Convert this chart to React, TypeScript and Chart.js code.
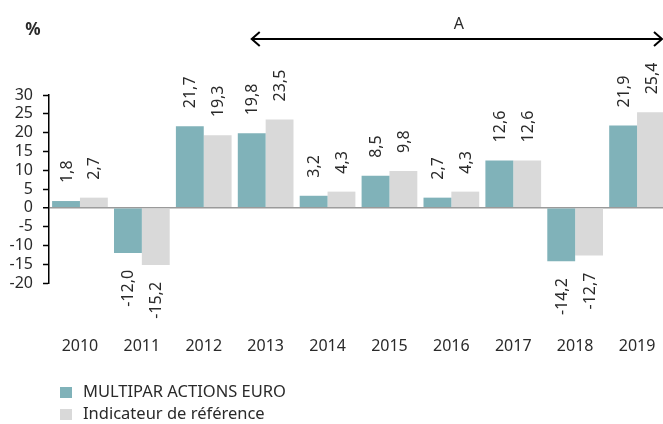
import React, { useEffect, useRef } from "react";
import { Chart, registerables } from "chart.js";

Chart.register(...registerables);

const categories = ["2010", "2011", "2012", "2013", "2014", "2015", "2016", "2017", "2018", "2019"];
const fundValues = [1.8, -12.0, 21.7, 19.8, 3.2, 8.5, 2.7, 12.6, -14.2, 21.9];
const benchmarkValues = [2.7, -15.2, 19.3, 23.5, 4.3, 9.8, 4.3, 12.6, -12.7, 25.4];
const seriesNames = ["MULTIPAR ACTIONS EURO", "Indicateur de référence"];
const seriesColors = ["#80b2b9", "#d9d9d9"];
const yMin = -20;
const yMax = 30;
const yStep = 5;
const unitLabel = "%";
const periodLabel = "A";
const periodStart = "2013";

const FONT = "'Noto Sans', sans-serif";
const TEXT = "#2a2a2a";

const fmt = (v: number) => v.toFixed(1).replace(".", ",");

const overlayPlugin = {
  id: "overlay",
  afterDatasetsDraw(chart: any) {
    const ctx = chart.ctx;
    ctx.save();
    ctx.font = `16px ${FONT}`;
    ctx.fillStyle = TEXT;
    ctx.textBaseline = "middle";
    chart.data.datasets.forEach((ds: any, di: number) => {
      const meta = chart.getDatasetMeta(di);
      meta.data.forEach((bar: any, i: number) => {
        const v = ds.data[i];
        ctx.save();
        if (v >= 0) {
          ctx.translate(bar.x, bar.y - 18);
          ctx.rotate(-Math.PI / 2);
          ctx.textAlign = "left";
        } else {
          ctx.translate(bar.x, bar.y + 17);
          ctx.rotate(-Math.PI / 2);
          ctx.textAlign = "right";
        }
        ctx.fillText(fmt(v), 0, 1);
        ctx.restore();
      });
    });
    ctx.restore();
  },
  afterDraw(chart: any) {
    const ctx = chart.ctx;
    ctx.save();
    // unit label
    ctx.font = `bold 17px ${FONT}`;
    ctx.fillStyle = TEXT;
    ctx.textAlign = "center";
    ctx.textBaseline = "middle";
    ctx.fillText(unitLabel, 33, 30);
    // period arrow
    const idx = categories.indexOf(periodStart);
    const x0 = chart.getDatasetMeta(0).data[idx].x;
    const x1 = 662;
    const y = 39;
    ctx.strokeStyle = "#000";
    ctx.lineWidth = 2;
    ctx.beginPath();
    ctx.moveTo(x0, y);
    ctx.lineTo(x1, y);
    ctx.stroke();
    ctx.beginPath();
    ctx.moveTo(x0 + 8, y - 7);
    ctx.lineTo(x0, y);
    ctx.lineTo(x0 + 8, y + 7);
    ctx.stroke();
    ctx.beginPath();
    ctx.moveTo(x1 - 8, y - 7);
    ctx.lineTo(x1, y);
    ctx.lineTo(x1 - 8, y + 7);
    ctx.stroke();
    ctx.font = `16px ${FONT}`;
    ctx.fillText(periodLabel, (x0 + x1) / 2 + 2, 24);
    // legend
    ctx.textAlign = "left";
    ctx.font = `16.5px ${FONT}`;
    seriesNames.forEach((name, i) => {
      const cy = 392 + i * 22;
      ctx.fillStyle = seriesColors[i];
      ctx.fillRect(60, cy - 5, 12, 11);
      ctx.fillStyle = TEXT;
      ctx.fillText(name, 83, cy);
    });
    ctx.restore();
  },
};

export default function App() {
  const ref = useRef<HTMLCanvasElement | null>(null);
  useEffect(() => {
    if (!ref.current) return;
    const chart = new Chart(ref.current, {
      type: "bar",
      data: {
        labels: categories,
        datasets: [
          { label: seriesNames[0], data: fundValues, backgroundColor: seriesColors[0], borderWidth: 0 },
          { label: seriesNames[1], data: benchmarkValues, backgroundColor: seriesColors[1], borderWidth: 0 },
        ],
      },
      options: {
        animation: false,
        responsive: false,
        maintainAspectRatio: false,
        events: [],
        datasets: { bar: { categoryPercentage: 0.9, barPercentage: 1.0 } },
        layout: { padding: { top: 95, right: 2, left: 0, bottom: 0 } },
        plugins: { legend: { display: false }, tooltip: { enabled: false } },
        scales: {
          x: {
            grid: {
              display: true,
              drawOnChartArea: false,
              drawTicks: true,
              tickLength: 52,
              color: "rgba(0,0,0,0)",
              tickColor: "rgba(0,0,0,0)",
            },
            border: { display: false },
            ticks: { color: TEXT, font: { family: FONT, size: 16 }, padding: 2, maxRotation: 0, autoSkip: false },
            afterFit: (s: any) => {
              s.height = 141;
            },
          },
          y: {
            min: yMin,
            max: yMax,
            afterFit: (s: any) => {
              s.width = 49;
            },
            border: { display: true, color: "#000", width: 1.5 },
            grid: {
              color: (c: any) => (c.tick && c.tick.value === 0 ? "#9a9a9a" : "rgba(0,0,0,0)"),
              lineWidth: (c: any) => (c.tick && c.tick.value === 0 ? 1.5 : 1),
              tickColor: "#000",
              tickLength: 6,
              tickWidth: 1.5,
            },
            ticks: {
              stepSize: yStep,
              autoSkip: false,
              color: TEXT,
              font: { family: FONT, size: 16 },
              padding: 10,
            },
          },
        },
      },
      plugins: [overlayPlugin],
    });
    return () => chart.destroy();
  }, []);
  return (
    <div style={{ position: "fixed", left: 0, top: 0, width: 663, height: 424, overflow: "hidden", background: "#fff" }}>
      <canvas ref={ref} width={670} height={424} style={{ width: 670, height: 424, display: "block" }} />
    </div>
  );
}
